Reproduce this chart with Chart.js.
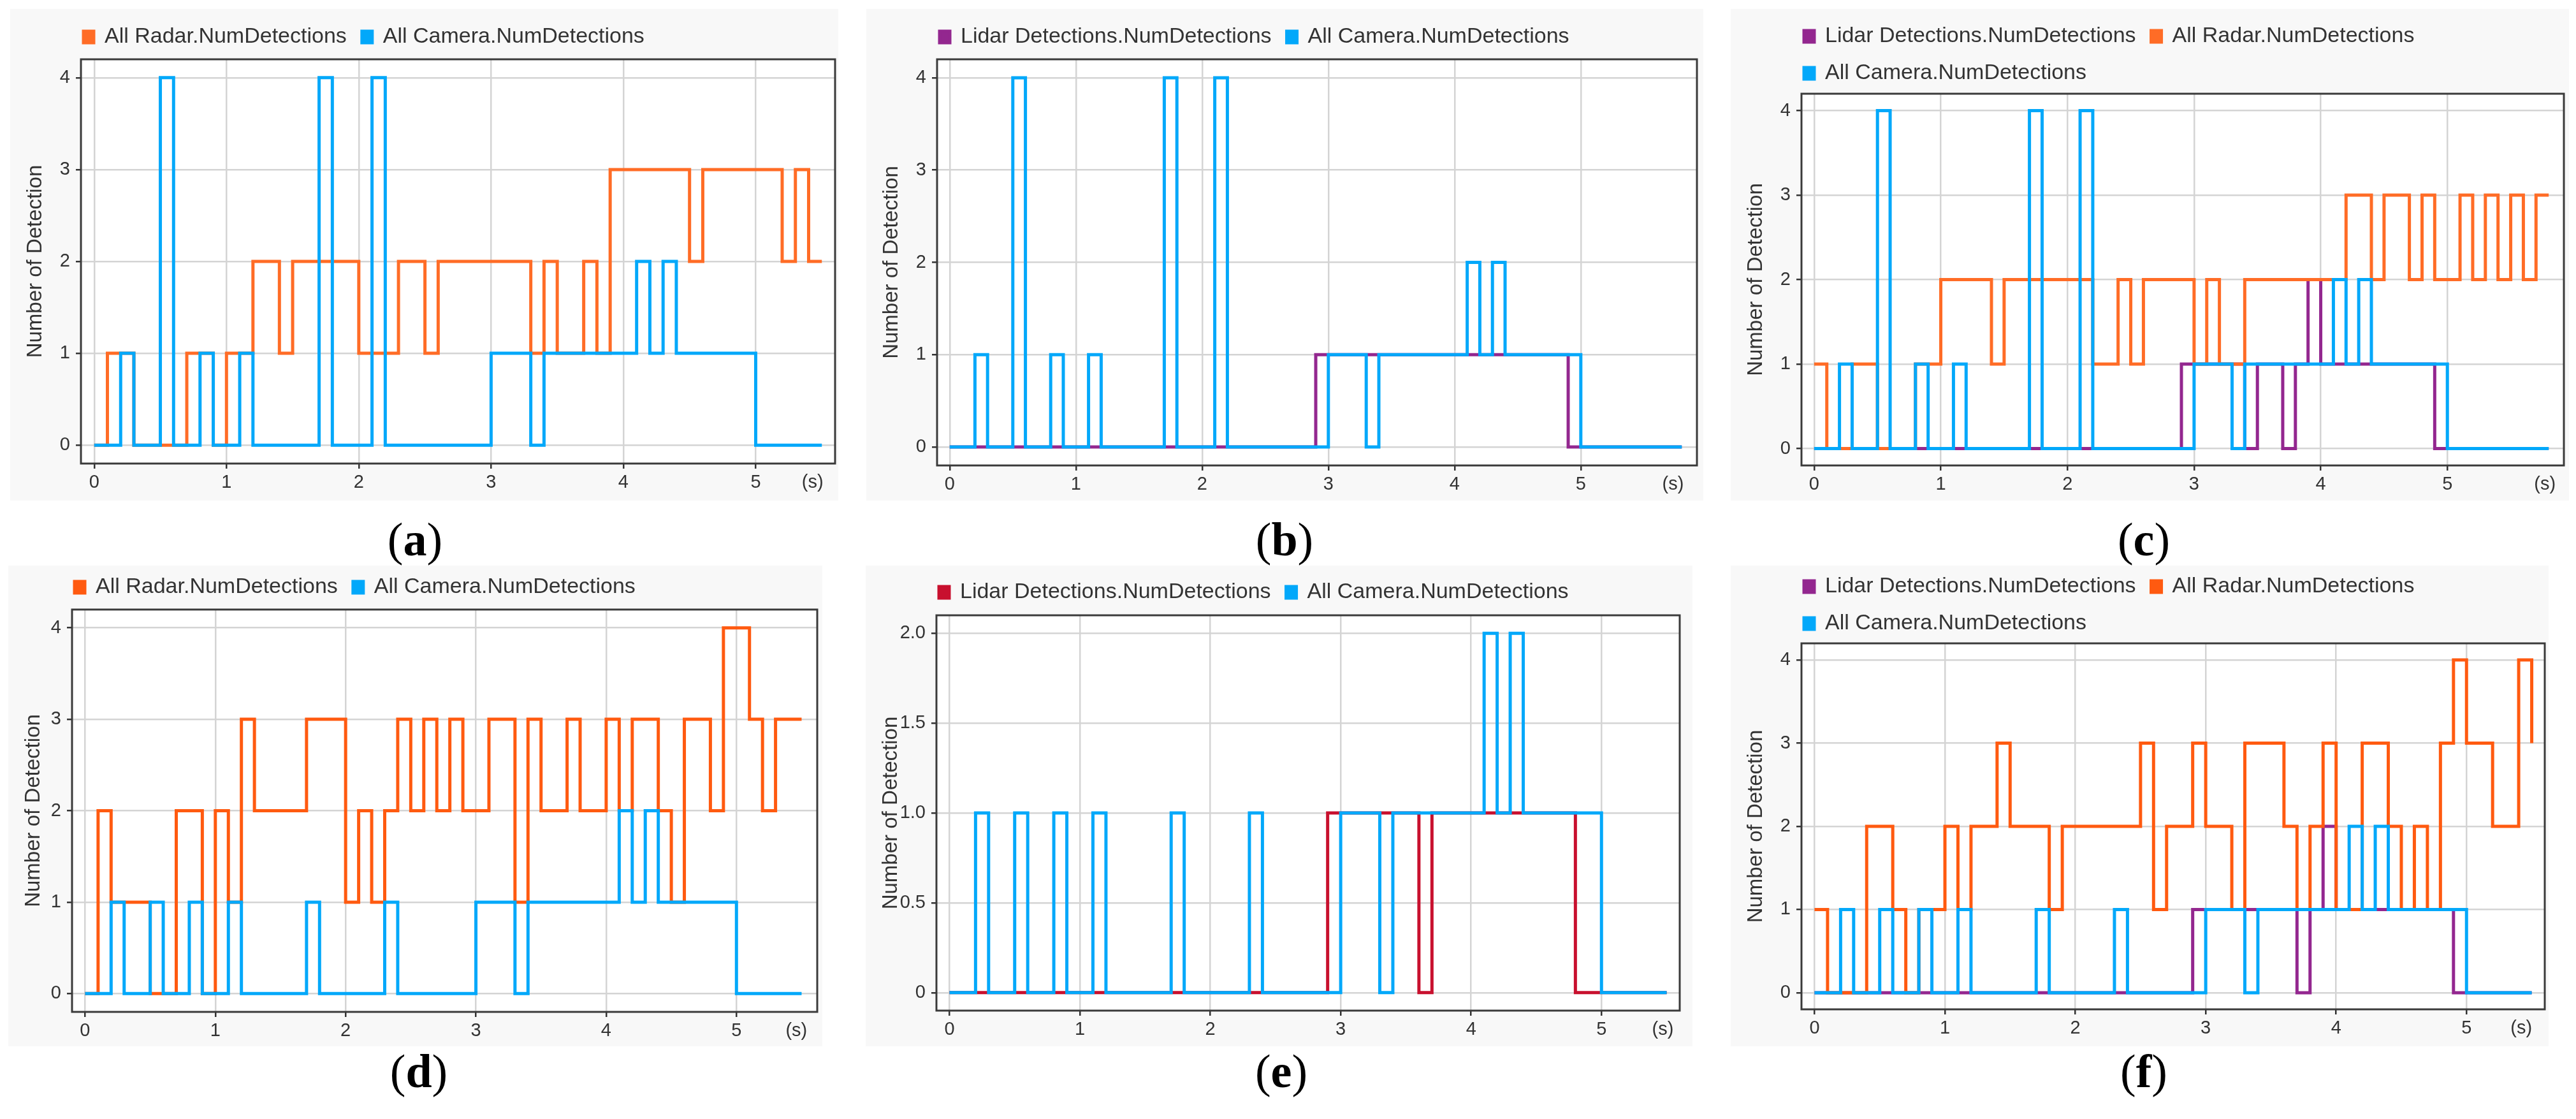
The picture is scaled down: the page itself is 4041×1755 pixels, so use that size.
<!DOCTYPE html>
<html>
<head>
<meta charset="utf-8">
<script src="https://cdn.jsdelivr.net/npm/chart.js@4.4.0/dist/chart.umd.min.js"></script>
<style>
  html, body { margin: 0; padding: 0; background: #fff; }
  #page { position: relative; width: 4041px; height: 1755px; overflow: hidden; background: #fff; }
  .panel { position: absolute; background: #f8f8f8; }
  canvas { position: absolute; }
  .tag {
    position: absolute;
    font-family: "Liberation Serif", "Times New Roman", serif;
    font-size: 74px;
    line-height: 1;
    color: #000;
    white-space: nowrap;
    transform: translate(-50%, -50%);
  }
</style>
</head>
<body>
<div id="page"></div>
<script>
// time stamps (s)
const TIME_55 = [0, 0.1, 0.2, 0.3, 0.4, 0.5, 0.6, 0.7, 0.8, 0.9,
  1, 1.1, 1.2, 1.3, 1.4, 1.5, 1.6, 1.7, 1.8, 1.9,
  2, 2.1, 2.2, 2.3, 2.4, 2.5, 2.6, 2.7, 2.8, 2.9,
  3, 3.1, 3.2, 3.3, 3.4, 3.5, 3.6, 3.7, 3.8, 3.9,
  4, 4.1, 4.2, 4.3, 4.4, 4.5, 4.6, 4.7, 4.8, 4.9,
  5, 5.1, 5.2, 5.3, 5.4, 5.5];
const TIME_58 = [0, 0.1, 0.2, 0.3, 0.4, 0.5, 0.6, 0.7, 0.8, 0.9,
  1, 1.1, 1.2, 1.3, 1.4, 1.5, 1.6, 1.7, 1.8, 1.9,
  2, 2.1, 2.2, 2.3, 2.4, 2.5, 2.6, 2.7, 2.8, 2.9,
  3, 3.1, 3.2, 3.3, 3.4, 3.5, 3.6, 3.7, 3.8, 3.9,
  4, 4.1, 4.2, 4.3, 4.4, 4.5, 4.6, 4.7, 4.8, 4.9,
  5, 5.1, 5.2, 5.3, 5.4, 5.5, 5.6, 5.7, 5.8];

const X_TICKS = [0, 1, 2, 3, 4, 5];
const Y_TICKS = [0, 1, 2, 3, 4];
const Y_TICKS_E = [0, 0.5, 1, 1.5, 2];

const LIDAR_NAME = "Lidar Detections.NumDetections";
const RADAR_NAME = "All Radar.NumDetections";
const CAMERA_NAME = "All Camera.NumDetections";

// (a)
const A_RADAR = [0, 1, 1, 0, 0, 0, 0, 1, 1, 0, 1, 1, 2, 2, 1, 2, 2, 2, 2, 2,
  1, 1, 1, 2, 2, 1, 2, 2, 2, 2, 2, 2, 2, 1, 2, 1, 1, 2, 1, 3,
  3, 3, 3, 3, 3, 2, 3, 3, 3, 3, 3, 3, 2, 3, 2, 2];
const A_CAMERA = [0, 0, 1, 0, 0, 4, 0, 0, 1, 0, 0, 1, 0, 0, 0, 0, 0, 4, 0, 0,
  0, 4, 0, 0, 0, 0, 0, 0, 0, 0, 1, 1, 1, 0, 1, 1, 1, 1, 1, 1,
  1, 2, 1, 2, 1, 1, 1, 1, 1, 1, 0, 0, 0, 0, 0, 0];

// (b)
const B_LIDAR = [0, 0, 0, 0, 0, 0, 0, 0, 0, 0, 0, 0, 0, 0, 0, 0, 0, 0, 0, 0,
  0, 0, 0, 0, 0, 0, 0, 0, 0, 1, 1, 1, 1, 1, 1, 1, 1, 1, 1, 1,
  1, 1, 1, 1, 1, 1, 1, 1, 1, 0, 0, 0, 0, 0, 0, 0, 0, 0, 0];
const B_CAMERA = [0, 0, 1, 0, 0, 4, 0, 0, 1, 0, 0, 1, 0, 0, 0, 0, 0, 4, 0, 0,
  0, 4, 0, 0, 0, 0, 0, 0, 0, 0, 1, 1, 1, 0, 1, 1, 1, 1, 1, 1,
  1, 2, 1, 2, 1, 1, 1, 1, 1, 1, 0, 0, 0, 0, 0, 0, 0, 0, 0];

// (c)
const C_LIDAR = [0, 0, 0, 0, 0, 0, 0, 0, 0, 0, 0, 0, 0, 0, 0, 0, 0, 0, 0, 0,
  0, 0, 0, 0, 0, 0, 0, 0, 0, 1, 1, 1, 1, 1, 0, 1, 1, 0, 1, 2,
  1, 1, 1, 1, 1, 1, 1, 1, 1, 0, 0, 0, 0, 0, 0, 0, 0, 0, 0];
const C_RADAR = [1, 0, 0, 1, 1, 0, 0, 0, 1, 1, 2, 2, 2, 2, 1, 2, 2, 2, 2, 2,
  2, 2, 1, 1, 2, 1, 2, 2, 2, 2, 1, 2, 1, 1, 2, 2, 2, 2, 2, 2,
  2, 2, 3, 3, 2, 3, 3, 2, 3, 2, 2, 3, 2, 3, 2, 3, 2, 3, 3];
const C_CAMERA = [0, 0, 1, 0, 0, 4, 0, 0, 1, 0, 0, 1, 0, 0, 0, 0, 0, 4, 0, 0,
  0, 4, 0, 0, 0, 0, 0, 0, 0, 0, 1, 1, 1, 0, 1, 1, 1, 1, 1, 1,
  1, 2, 1, 2, 1, 1, 1, 1, 1, 1, 0, 0, 0, 0, 0, 0, 0, 0, 0];

// (d)
const D_RADAR = [0, 2, 1, 1, 1, 0, 0, 2, 2, 0, 2, 1, 3, 2, 2, 2, 2, 3, 3, 3,
  1, 2, 1, 2, 3, 2, 3, 2, 3, 2, 2, 3, 3, 1, 3, 2, 2, 3, 2, 2,
  3, 2, 3, 3, 2, 1, 3, 3, 2, 4, 4, 3, 2, 3, 3, 3];
const D_CAMERA = [0, 0, 1, 0, 0, 1, 0, 0, 1, 0, 0, 1, 0, 0, 0, 0, 0, 1, 0, 0,
  0, 0, 0, 1, 0, 0, 0, 0, 0, 0, 1, 1, 1, 0, 1, 1, 1, 1, 1, 1,
  1, 2, 1, 2, 1, 1, 1, 1, 1, 1, 0, 0, 0, 0, 0, 0];

// (e)
const E_LIDAR = [0, 0, 0, 0, 0, 0, 0, 0, 0, 0, 0, 0, 0, 0, 0, 0, 0, 0, 0, 0,
  0, 0, 0, 0, 0, 0, 0, 0, 0, 1, 1, 1, 1, 1, 1, 1, 0, 1, 1, 1,
  1, 1, 1, 1, 1, 1, 1, 1, 0, 0, 0, 0, 0, 0, 0, 0];
const E_CAMERA = [0, 0, 1, 0, 0, 1, 0, 0, 1, 0, 0, 1, 0, 0, 0, 0, 0, 1, 0, 0,
  0, 0, 0, 1, 0, 0, 0, 0, 0, 0, 1, 1, 1, 0, 1, 1, 1, 1, 1, 1,
  1, 2, 1, 2, 1, 1, 1, 1, 1, 1, 0, 0, 0, 0, 0, 0];

// (f)
const F_LIDAR = [0, 0, 0, 0, 0, 0, 0, 0, 0, 0, 0, 0, 0, 0, 0, 0, 0, 0, 0, 0,
  0, 0, 0, 0, 0, 0, 0, 0, 0, 1, 1, 1, 1, 1, 1, 1, 1, 0, 1, 2,
  1, 1, 1, 1, 1, 1, 1, 1, 1, 0, 0, 0, 0, 0, 0, 0];
const F_RADAR = [1, 0, 0, 0, 2, 2, 1, 0, 1, 1, 2, 1, 2, 2, 3, 2, 2, 2, 1, 2,
  2, 2, 2, 2, 2, 3, 1, 2, 2, 3, 2, 2, 1, 3, 3, 3, 2, 1, 2, 3,
  1, 1, 3, 3, 2, 1, 2, 1, 3, 4, 3, 3, 2, 2, 4, 3];
const F_CAMERA = [0, 0, 1, 0, 0, 1, 0, 0, 1, 0, 0, 1, 0, 0, 0, 0, 0, 1, 0, 0,
  0, 0, 0, 1, 0, 0, 0, 0, 0, 0, 1, 1, 1, 0, 1, 1, 1, 1, 1, 1,
  1, 2, 1, 2, 1, 1, 1, 1, 1, 1, 0, 0, 0, 0, 0, 0];

const C_ORANGE = "#ff6c26";
const C_ORANGE2 = "#ff5a10";
const C_BLUE = "#02a8fa";
const C_PURPLE = "#93278f";
const C_CRIMSON = "#c8102e";

// page layout of each panel: bg = [l, t, r, b], plot = [l, t, r, b]
const PANELS = [
  { tag: "a", time: TIME_55, xMax: 5.6, yMin: -0.2, yMax: 4.2, yTicks: Y_TICKS, unitAt: 5.43,
    bg: [16, 14, 1315, 785], plot: [127, 93, 1310, 727], legendY: 58, tagPos: [651, 846],
    series: [[RADAR_NAME, A_RADAR, C_ORANGE], [CAMERA_NAME, A_CAMERA, C_BLUE]] },
  { tag: "b", time: TIME_58, xMax: 5.92, yMin: -0.2, yMax: 4.2, yTicks: Y_TICKS, unitAt: 5.73,
    bg: [1359, 14, 2672, 785], plot: [1470, 93, 2662, 730], legendY: 58, tagPos: [2015, 846],
    series: [[LIDAR_NAME, B_LIDAR, C_PURPLE], [CAMERA_NAME, B_CAMERA, C_BLUE]] },
  { tag: "c", time: TIME_58, xMax: 5.92, yMin: -0.2, yMax: 4.2, yTicks: Y_TICKS, unitAt: 5.77,
    bg: [2715, 14, 4030, 785], plot: [2826, 147, 4022, 730], legendY: 57, tagPos: [3363, 846],
    series: [[LIDAR_NAME, C_LIDAR, C_PURPLE], [RADAR_NAME, C_RADAR, C_ORANGE], [CAMERA_NAME, C_CAMERA, C_BLUE]] },
  { tag: "d", time: TIME_55, xMax: 5.62, yMin: -0.2, yMax: 4.2, yTicks: Y_TICKS, unitAt: 5.46,
    bg: [13, 887, 1290, 1641], plot: [113, 956, 1282, 1587], legendY: 921, tagPos: [657, 1680],
    series: [[RADAR_NAME, D_RADAR, C_ORANGE2], [CAMERA_NAME, D_CAMERA, C_BLUE]] },
  { tag: "e", time: TIME_55, xMax: 5.6, yMin: -0.1, yMax: 2.1, yTicks: Y_TICKS_E, unitAt: 5.47,
    bg: [1358, 887, 2655, 1641], plot: [1469, 965, 2635, 1585], legendY: 929, tagPos: [2010, 1680],
    series: [[LIDAR_NAME, E_LIDAR, C_CRIMSON], [CAMERA_NAME, E_CAMERA, C_BLUE]] },
  { tag: "f", time: TIME_55, xMax: 5.6, yMin: -0.2, yMax: 4.2, yTicks: Y_TICKS, unitAt: 5.42,
    bg: [2715, 887, 3998, 1641], plot: [2826, 1009, 3992, 1583], legendY: 920, tagPos: [3363, 1680],
    series: [[LIDAR_NAME, F_LIDAR, C_PURPLE], [RADAR_NAME, F_RADAR, C_ORANGE2], [CAMERA_NAME, F_CAMERA, C_BLUE]] },
];

Chart.defaults.font.family = "'Liberation Sans', Arial, Helvetica, sans-serif";
Chart.defaults.color = "#333";

const LEGEND_FONT = 34;
const LEGEND_PAD = 24;

// white plot area, dark frame, fixed legend height / offset
const framePlugin = {
  id: "frame",
  afterInit(chart, args, opts) {
    const lg = chart.legend;
    const fit = lg.fit;
    lg.fit = function () {
      fit.call(this);
      this.height = opts.legendHeight;
    };
  },
  afterLayout(chart, args, opts) {
    chart.legend.left -= opts.legendShift;
    chart.legend.right -= opts.legendShift;
  },
  beforeDraw(chart) {
    const a = chart.chartArea;
    const ctx = chart.ctx;
    ctx.save();
    ctx.fillStyle = "#fff";
    ctx.fillRect(a.left, a.top, a.right - a.left, a.bottom - a.top);
    ctx.restore();
  },
  afterDraw(chart) {
    const a = chart.chartArea;
    const ctx = chart.ctx;
    ctx.save();
    ctx.strokeStyle = "#3a3a3a";
    ctx.lineWidth = 3;
    ctx.strokeRect(a.left, a.top, a.right - a.left, a.bottom - a.top);
    ctx.restore();
  },
};

const page = document.getElementById("page");

function buildPanel(p) {
  const [bl, bt, br, bb] = p.bg;
  const [pl, pt, pr, pb] = p.plot;

  const bgDiv = document.createElement("div");
  bgDiv.className = "panel";
  bgDiv.style.left = bl + "px";
  bgDiv.style.top = bt + "px";
  bgDiv.style.width = br - bl + "px";
  bgDiv.style.height = bb - bt + "px";
  page.appendChild(bgDiv);

  const top = p.legendY - LEGEND_PAD - LEGEND_FONT / 2;
  const w = br - bl;
  const h = bb - top;
  const canvas = document.createElement("canvas");
  canvas.width = w;
  canvas.height = h;
  canvas.style.left = bl + "px";
  canvas.style.top = top + "px";
  canvas.style.width = w + "px";
  canvas.style.height = h + "px";
  page.appendChild(canvas);

  const tag = document.createElement("div");
  tag.className = "tag";
  tag.innerHTML = "(<b>" + p.tag + "</b>)";
  tag.style.left = p.tagPos[0] + "px";
  tag.style.top = p.tagPos[1] + "px";
  page.appendChild(tag);

  // camera listed first so it is drawn on top; legend is reversed back
  const datasets = p.series.slice().reverse().map(([name, values, color]) => ({
    label: name,
    data: values.map((v, i) => ({ x: p.time[i], y: v })),
    borderColor: color,
    backgroundColor: color,
    borderWidth: 5,
    stepped: "before",
    pointRadius: 0,
    fill: false,
    borderJoinStyle: "miter",
  }));

  const xTicks = X_TICKS.concat([p.unitAt]);
  const hideUnit = (c, col) => (c.tick && c.tick.value === p.unitAt ? "rgba(0,0,0,0)" : col);

  new Chart(canvas.getContext("2d"), {
    type: "line",
    data: { datasets: datasets },
    plugins: [framePlugin],
    options: {
      responsive: false,
      devicePixelRatio: 1,
      animation: false,
      events: [],
      layout: { padding: { left: 0, top: 0, right: br - pr, bottom: 0 } },
      scales: {
        x: {
          type: "linear",
          min: -0.1,
          max: p.xMax,
          afterBuildTicks: (scale) => {
            scale.ticks = xTicks.map((v) => ({ value: v }));
          },
          afterFit: (scale) => {
            scale.height = bb - pb;
          },
          ticks: {
            font: { size: 29 },
            color: "#333",
            padding: 5,
            maxRotation: 0,
            autoSkip: false,
            callback: (v) => (v === p.unitAt ? "(s)" : String(v)),
          },
          grid: {
            color: (c) => hideUnit(c, "#d4d4d4"),
            tickColor: (c) => hideUnit(c, "#333"),
            lineWidth: 2.5,
            tickLength: 8,
          },
          border: { display: false },
        },
        y: {
          min: p.yMin,
          max: p.yMax,
          afterBuildTicks: (scale) => {
            scale.ticks = p.yTicks.map((v) => ({ value: v }));
          },
          afterFit: (scale) => {
            scale.width = pl - bl;
          },
          ticks: {
            font: { size: 29 },
            color: "#333",
            padding: 9,
            autoSkip: false,
            callback: (v) => (p.yTicks === Y_TICKS_E && v !== 0 ? v.toFixed(1) : String(v)),
          },
          grid: {
            color: "#d4d4d4",
            tickColor: "#333",
            lineWidth: 2.5,
            tickLength: 8,
          },
          border: { display: false },
          title: {
            display: true,
            text: "Number of Detection",
            font: { size: 33 },
            color: "#333",
            padding: { top: 20, bottom: 0 },
          },
        },
      },
      plugins: {
        frame: { legendHeight: pt - top, legendShift: 20 },
        tooltip: { enabled: false },
        legend: {
          position: "top",
          align: "start",
          fullSize: false,
          reverse: true,
          labels: {
            font: { size: LEGEND_FONT },
            color: "#333",
            boxWidth: 16,
            boxHeight: 18,
            padding: LEGEND_PAD,
          },
        },
      },
    },
  });
}

PANELS.forEach(buildPanel);
</script>
</body>
</html>
